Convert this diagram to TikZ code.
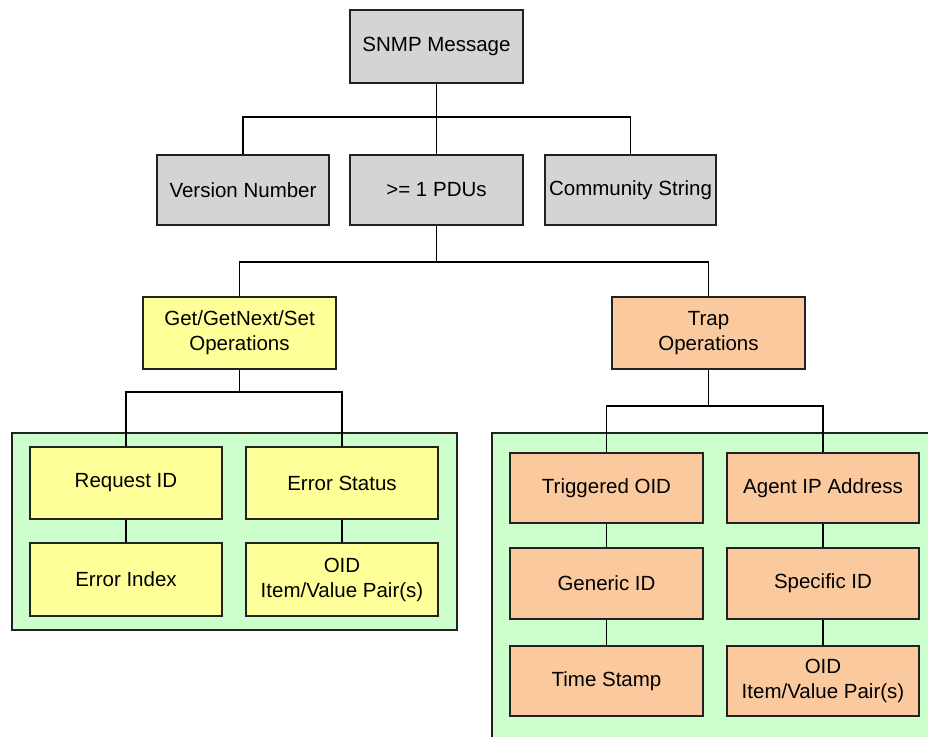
\documentclass[tikz,border=0pt]{standalone}
\usepackage{fontspec}
\setmainfont{Liberation Sans}
\definecolor{gfill}{HTML}{D4D4D4}
\definecolor{yfill}{HTML}{FFFF99}
\definecolor{ofill}{HTML}{FACA9E}
\definecolor{grn}{HTML}{CCFFCC}
\definecolor{edge}{HTML}{222222}
\tikzset{
  box/.style={draw=edge, line width=1.3pt, inner sep=0pt, minimum width=193pt, minimum height=72pt, align=center, font=\fontsize{20.5}{25}\selectfont},
  graybox/.style={box, fill=gfill},
  yelbox/.style={box, fill=yfill},
  orbox/.style={box, fill=ofill},
  grp/.style={draw=edge, line width=1.3pt, fill=grn},
  link/.style={draw=black, line width=1.4pt}
}
\begin{document}
\begin{tikzpicture}[x=1pt,y=-1pt]
\useasboundingbox (0,0) rectangle (928,736);
\clip (0,0) rectangle (928,736);
\fill[white] (0,0) rectangle (928,736);
% groups
\draw[grp] (12,433) rectangle (457,630);
\draw[grp] (492,433) rectangle (945,750);
% top level
\node[graybox, minimum width=173pt, minimum height=73pt] (snmp) at (436.5,46.5) {SNMP Message};
\node[graybox, minimum width=172pt, minimum height=70pt] (ver) at (243,190) {Version Number};
\node[graybox, minimum width=173pt, minimum height=70pt] (pdu) at (436.5,190) {>= 1 PDUs};
\node[graybox, minimum width=171pt, minimum height=70pt] (comm) at (630.5,190) {Community String};
% operations
\node[yelbox] (get) at (239.5,333) {Get/GetNext/Set\\Operations};
\node[orbox] (trap) at (708.5,333) {Trap\\Operations};
% left group
\node[yelbox, minimum width=192pt] (req) at (126,483) {Request ID};
\node[yelbox, minimum width=192pt] (errst) at (342,483) {Error Status};
\node[yelbox, minimum width=192pt, minimum height=73pt] (erridx) at (126,579.5) {Error Index};
\node[yelbox, minimum width=192pt, minimum height=73pt] (oida) at (342,579.5) {OID\\Item/Value Pair(s)};
% right group
\node[orbox, minimum height=70pt] (trig) at (606.5,488) {Triggered OID};
\node[orbox, minimum width=192pt, minimum height=70pt] (agent) at (823,488) {Agent IP Address};
\node[orbox, minimum height=71pt] (gen) at (606.5,583.5) {Generic ID};
\node[orbox, minimum width=192pt, minimum height=71pt] (spec) at (823,583.5) {Specific ID};
\node[orbox, minimum height=70pt] (time) at (606.5,681) {Time Stamp};
\node[orbox, minimum width=192pt, minimum height=70pt] (oidb) at (823,681) {OID\\Item/Value Pair(s)};
% connectors
\coordinate (j1) at (436.5,117);
\coordinate (j2) at (436.5,262);
\coordinate (j3) at (239.5,392);
\coordinate (j4) at (708.5,406);
\draw[link] (snmp.south) -- (j1);
\draw[link] (j1) -| (ver.north);
\draw[link] (j1) -- (pdu.north);
\draw[link] (j1) -| (comm.north);
\draw[link] (pdu.south) -- (j2);
\draw[link] (j2) -| (get.north);
\draw[link] (j2) -| (trap.north);
\draw[link] (get.south) -- (j3);
\draw[link] (j3) -| (req.north);
\draw[link] (j3) -| (errst.north);
\draw[link] (trap.south) -- (j4);
\draw[link] (j4) -| (trig.north);
\draw[link] (j4) -| (agent.north);
\draw[link] (req.south) -- (erridx.north);
\draw[link] (errst.south) -- (oida.north);
\draw[link] (trig.south) -- (gen.north);
\draw[link] (gen.south) -- (time.north);
\draw[link] (agent.south) -- (spec.north);
\draw[link] (spec.south) -- (oidb.north);
\end{tikzpicture}
\end{document}
